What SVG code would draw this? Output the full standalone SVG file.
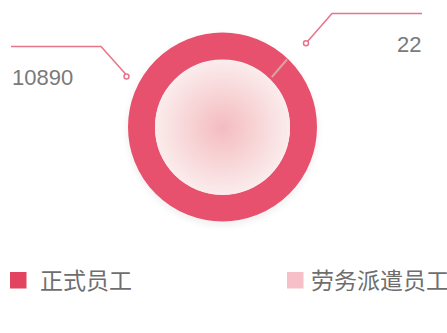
<svg xmlns="http://www.w3.org/2000/svg" width="447" height="333" viewBox="0 0 447 333">
<style>
.lead{fill:none;stroke:#e8738a;stroke-width:1.5}
.dot{fill:#fff;stroke:#e8738a;stroke-width:1.5}
.val{font-family:"Liberation Sans",Arial,sans-serif;font-size:22px;fill:#7a7a7a}
.leg{font-family:"Noto Sans CJK SC","Liberation Sans",sans-serif;font-size:23px;fill:#6e6e6e}
</style>
<defs>
<radialGradient id="core" cx="0.5" cy="0.5" r="0.5">
<stop offset="0" stop-color="#f4bcc0"/>
<stop offset="1" stop-color="#fbecec"/>
</radialGradient>
<filter id="sh" x="-20%" y="-20%" width="140%" height="140%">
<feGaussianBlur stdDeviation="3"/>
</filter>
</defs>
<rect width="447" height="333" fill="#ffffff"/>
<g id="ring">
<circle cx="222.5" cy="130" r="96" fill="#000" opacity="0.05" filter="url(#sh)"/>
<circle cx="222.5" cy="127" r="81" fill="none" stroke="#e8516d" stroke-width="27"/>
<line x1="271.8" y1="77.2" x2="287" y2="59.5" stroke="#d8a4a8" stroke-width="2"/>
<circle cx="222.5" cy="127.5" r="67.5" fill="url(#core)"/>
</g>
<g id="connectors">
<polyline class="lead" points="11,46.5 101,46.5 126.5,75"/>
<circle class="dot" cx="126.5" cy="76.5" r="2.5"/>
<polyline class="lead" points="307.5,41.5 332,13.5 422,13.5"/>
<circle class="dot" cx="306" cy="43.3" r="2.5"/>
</g>
<g id="label-10890"><text class="val" x="12" y="85">10890</text></g>
<g id="label-22"><text class="val" x="397" y="52">22</text></g>
<g id="legend-1">
<rect x="10" y="272" width="16.5" height="16.5" fill="#e2445f"/>
<text class="leg" x="40" y="289">正式员工</text>
</g>
<g id="legend-2">
<rect x="287" y="272" width="16.5" height="16.5" fill="#f7c0c8"/>
<text class="leg" x="311" y="289">劳务派遣员工</text>
</g>
</svg>
